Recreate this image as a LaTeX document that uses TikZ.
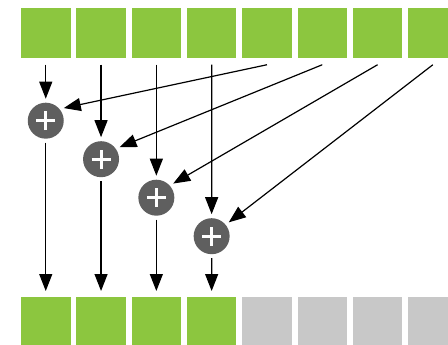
\documentclass[tikz,border=0pt]{standalone}
\usetikzlibrary{arrows.meta}
\definecolor{cellgreen}{RGB}{140,198,63}
\definecolor{cellgray}{RGB}{200,200,200}
\definecolor{adderfill}{RGB}{95,95,95}
\begin{document}
\begin{tikzpicture}[x=1pt,y=-1pt,
  cell/.style={rectangle,minimum size=49.5pt,inner sep=0pt,outer sep=0pt},
  greencell/.style={cell,fill=cellgreen},
  graycell/.style={cell,fill=cellgray},
  adder/.style={circle,fill=adderfill,minimum size=36pt,inner sep=0pt,outer sep=4pt,
    path picture={
      \draw[white,line width=3pt]
        ([xshift=-9.5pt]path picture bounding box.center) -- ([xshift=9.5pt]path picture bounding box.center)
        ([yshift=-9.5pt]path picture bounding box.center) -- ([yshift=9.5pt]path picture bounding box.center);
    }},
  link/.style={line width=1.2pt,-{Triangle[length=17pt,width=13pt]}}
]
\useasboundingbox (0,0) rectangle (448,345);
\clip (0,0) rectangle (448,345);

% input row
\foreach \i in {1,...,8}
  \node[greencell] (t\i) at ({45.75+55.3*(\i-1)},33) {};

% output row: first four filled, the rest still empty
\foreach \i in {1,...,4}
  \node[greencell] (b\i) at ({45.75+55.3*(\i-1)},321.75) {};
\foreach \i in {5,...,8}
  \node[graycell] (b\i) at ({45.75+55.3*(\i-1)},321.75) {};

% adders
\node[adder] (c1) at (45.75,120.7) {};
\node[adder] (c2) at (101.05,159.2) {};
\node[adder] (c3) at (156.35,197.7) {};
\node[adder] (c4) at (211.65,236.2) {};

% left operands
\foreach \i in {1,...,4}
  \draw[link] ([yshift=-7pt]t\i.south) -- (c\i);

% right operands
\draw[link] ([yshift=-7pt]t5.south) -- (c1.35);
\draw[link] ([yshift=-7pt]t6.south) -- (c2.33);
\draw[link] ([yshift=-7pt]t7.south) -- (c3.40);
\draw[link] ([yshift=-7pt]t8.south) -- (c4.39);

% results
\foreach \i in {1,...,4}
  \draw[link] (c\i) -- ([yshift=6pt]b\i.north);
\end{tikzpicture}
\end{document}
